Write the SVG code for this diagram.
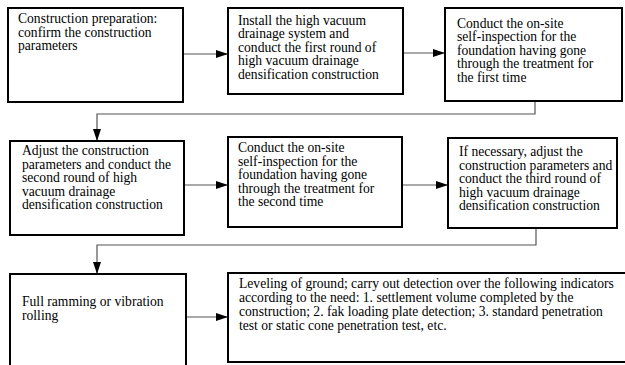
<svg xmlns="http://www.w3.org/2000/svg" width="625" height="365" viewBox="0 0 625 365">
<defs>
<marker id="ah" markerWidth="12" markerHeight="8" refX="11" refY="4" orient="auto" markerUnits="userSpaceOnUse">
<path d="M0,0 L12,4 L0,8 Z" fill="#000"/>
</marker>
<style>
.box{fill:#fff;stroke:#000;stroke-width:2}
.t{font-family:"Liberation Serif","Times New Roman",serif;font-size:13.6px;fill:#000}
.c{fill:none;stroke:#555;stroke-width:1.2}
</style>
</defs>
<rect width="625" height="365" fill="#fff"/>
<g id="connectors">
<path class="c" d="M183,54 H227" marker-end="url(#ah)"/>
<path class="c" d="M403,53 H444" marker-end="url(#ah)"/>
<path class="c" d="M535,101 V114 H97 V140" marker-end="url(#ah)"/>
<path class="c" d="M184,185 H227" marker-end="url(#ah)"/>
<path class="c" d="M402,185 H447" marker-end="url(#ah)"/>
<path class="c" d="M536,228 V245 H97 V273" marker-end="url(#ah)"/>
<path class="c" d="M186,317 H227" marker-end="url(#ah)"/>
</g>
<g id="n1">
<rect class="box" x="8" y="8" width="175" height="94"/>
<text class="t" x="18" y="23">Construction preparation:</text>
<text class="t" x="18" y="36.5">confirm the construction</text>
<text class="t" x="18" y="50">parameters</text>
</g>
<g id="n2">
<rect class="box" x="228" y="8" width="175" height="86"/>
<text class="t" x="238" y="24.5">Install the high vacuum</text>
<text class="t" x="238" y="38">drainage system and</text>
<text class="t" x="238" y="51.5">conduct the first round of</text>
<text class="t" x="238" y="65">high vacuum drainage</text>
<text class="t" x="238" y="78.5">densification construction</text>
</g>
<g id="n3">
<rect class="box" x="445" y="8" width="177" height="93"/>
<text class="t" x="457" y="27.5">Conduct the on-site</text>
<text class="t" x="457" y="41">self-inspection for the</text>
<text class="t" x="457" y="54.5">foundation having gone</text>
<text class="t" x="457" y="68">through the treatment for</text>
<text class="t" x="457" y="81.5">the first time</text>
</g>
<g id="n4">
<rect class="box" x="10" y="141" width="174" height="94"/>
<text class="t" x="22" y="155">Adjust the construction</text>
<text class="t" x="22" y="168.5">parameters and conduct the</text>
<text class="t" x="22" y="182">second round of high</text>
<text class="t" x="22" y="195.5">vacuum drainage</text>
<text class="t" x="22" y="209">densification construction</text>
</g>
<g id="n5">
<rect class="box" x="228" y="137" width="174" height="90"/>
<text class="t" x="238" y="152">Conduct the on-site</text>
<text class="t" x="238" y="165.5">self-inspection for the</text>
<text class="t" x="238" y="179">foundation having gone</text>
<text class="t" x="238" y="192.5">through the treatment for</text>
<text class="t" x="238" y="206">the second time</text>
</g>
<g id="n6">
<rect class="box" x="448" y="138" width="169" height="90"/>
<text class="t" x="459" y="156">If necessary, adjust the</text>
<text class="t" x="459" y="169.5">construction parameters and</text>
<text class="t" x="459" y="183">conduct the third round of</text>
<text class="t" x="459" y="196.5">high vacuum drainage</text>
<text class="t" x="459" y="210">densification construction</text>
</g>
<g id="n7">
<rect class="box" x="10" y="274" width="176" height="100"/>
<text class="t" x="22" y="306">Full ramming or vibration</text>
<text class="t" x="22" y="320">rolling</text>
</g>
<g id="n8">
<rect class="box" x="228" y="273" width="410" height="89"/>
<text class="t" x="239" y="288">Leveling of ground; carry out detection over the following indicators</text>
<text class="t" x="239" y="302">according to the need: 1. settlement volume completed by the</text>
<text class="t" x="239" y="316">construction; 2. fak loading plate detection; 3. standard penetration</text>
<text class="t" x="239" y="330">test or static cone penetration test, etc.</text>
</g>
</svg>
